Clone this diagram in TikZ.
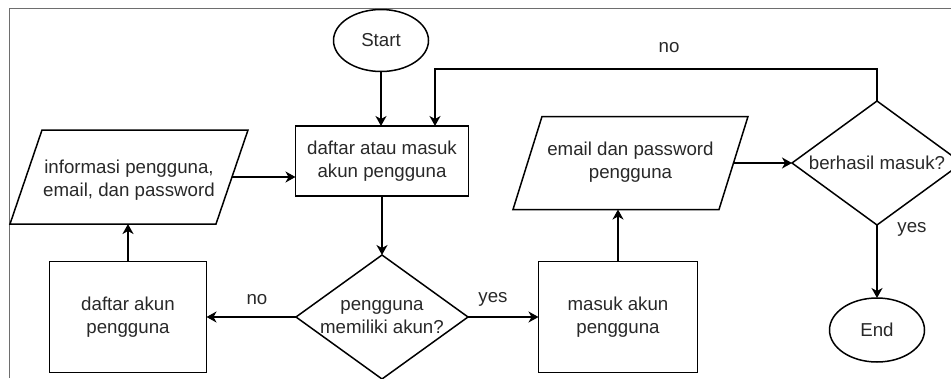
\documentclass[tikz,border=0pt]{standalone}
\usepackage{fontspec}
\setmainfont{Liberation Sans}
\usetikzlibrary{shapes.geometric,arrows.meta,calc}
\definecolor{txtgray}{RGB}{40,40,40}
\definecolor{framegray}{RGB}{110,110,110}
\begin{document}
\begin{tikzpicture}[x=1pt,y=-1pt,
  every node/.style={inner sep=0pt, outer sep=0pt},
  txt/.style={font=\fontsize{18.7}{23.5}\selectfont, text=txtgray, align=center},
  shapeline/.style={draw=black, line width=1.5pt},
  flow/.style={draw=black, line width=1.5pt, -{Stealth[length=10pt,width=11pt,inset=3pt]}},
  term/.style={ellipse, shapeline, txt, minimum width=95pt, minimum height=62pt},
  proc/.style={rectangle, shapeline, txt},
  iobox/.style={rectangle, txt},
  decision/.style={diamond, shapeline, minimum width=172pt, minimum height=124pt}
]
\useasboundingbox (0,0) rectangle (951,378);
\clip (0,0) rectangle (951,378);

% frame of the canvas
\draw[framegray, line width=1pt] (9,378) -- (9,8) -- (951,8);

% nodes
\node[term] (start) at (381,40.5) {Start};
\node[proc, minimum width=173pt, minimum height=70pt] (p1) at (382,161) {daftar atau masuk\\akun pengguna};
\node[iobox, minimum width=238pt, minimum height=94pt] (in1) at (129,177) {};
\node[txt] (in1t) at (129,180) {informasi pengguna,\\email, dan password};
\node[decision, label={[txt]center:pengguna\\memiliki akun?}] (d1) at (382,317) {};
\node[proc, minimum width=157pt, minimum height=111pt] (p2) at (128,317) {daftar akun\\pengguna};
\node[proc, minimum width=159pt, minimum height=111pt] (p3) at (618,317) {masuk akun\\pengguna};
\node[iobox, minimum width=235pt, minimum height=93pt] (in2) at (630.5,163) {};
\node[txt] (in2t) at (630.5,162) {email dan password\\pengguna};
\node[decision, minimum width=170pt, label={[txt]center:berhasil masuk?}] (d2) at (877,163) {};
\node[term, minimum height=64pt] (end) at (877,330) {End};
\coordinate (loop) at (435,69);

% input/output parallelograms
\draw[shapeline] ($(in1.north west)+(32,0)$) -- (in1.north east) -- ($(in1.south east)+(-32,0)$) -- (in1.south west) -- cycle;
\draw[shapeline] ($(in2.north west)+(29,0)$) -- (in2.north east) -- ($(in2.south east)+(-29,0)$) -- (in2.south west) -- cycle;

% connectors
\draw[flow] (start.south) -- (start.south |- p1.north);
\draw[flow] (d2.north) -- (d2.north |- loop) -- (loop) -- (loop |- p1.north);
\node[txt] (lno1) at (669,48) {no};
\draw[flow] ($(in1.east)+(-16,0)$) -- (in1.east -| p1.west);
\draw[flow] (p1.south) -- (d1.north);
\draw[flow] (d1.west) -- (p2.east);
\node[txt] (lno2) at (257,300) {no};
\draw[flow] (d1.east) -- (p3.west);
\node[txt] (lyes1) at (493,299) {yes};
\draw[flow] (p2.north) -- (p2.north |- in1.south);
\draw[flow] (p3.north) -- (p3.north |- in2.south);
\draw[flow] ($(in2.east)+(-14.5,0)$) -- (d2.west);
\draw[flow] (d2.south) -- (d2.south |- end.north);
\node[txt] (lyes2) at (912,229) {yes};
\end{tikzpicture}
\end{document}
